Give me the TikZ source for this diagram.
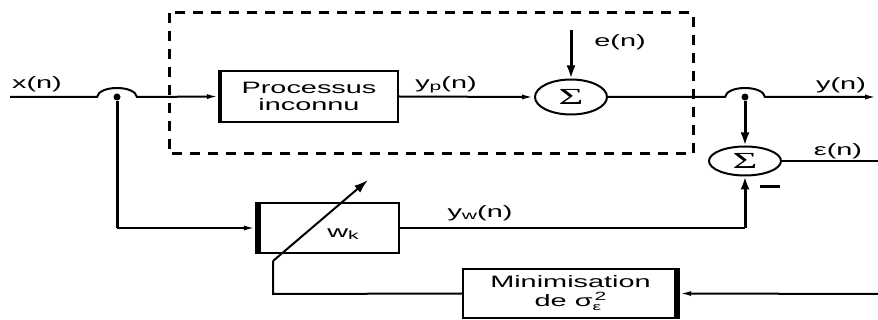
\documentclass[tikz,border=0pt]{standalone}
\usepackage{fontspec}
\setmainfont[FakeStretch=1.75]{Liberation Sans}
\newfontfamily\sigmafont[FakeStretch=1.85]{Liberation Serif}
\usetikzlibrary{arrows.meta,shapes.geometric}

\newcommand{\lowsub}[1]{\raisebox{-2.5pt}{\fontsize{12}{12}\selectfont #1}}

\begin{document}
\begin{tikzpicture}[x=1pt,y=-1pt,
  txt/.style={font=\fontsize{16.5}{17}\selectfont, inner sep=0pt},
  blk/.style={draw, line width=2.4pt, inner sep=0pt, txt, align=center},
  sumnode/.style={draw, ellipse, line width=2pt, inner sep=0pt,
    minimum width=72pt, minimum height=35pt,
    font=\sigmafont\fontsize{23}{23}\selectfont},
  wire/.style={line width=2pt},
  arr/.style={wire, -{Latex[length=12pt,width=5pt]}},
  varr/.style={line width=3pt, -{Latex[length=13pt,width=9pt]}},
  dot/.style={circle, fill, inner sep=0pt, minimum size=7pt},
]
\useasboundingbox (0,0) rectangle (878,320);

% boundary of the unknown system
\draw[line width=3pt, dash pattern=on 10pt off 8pt] (169,13) rectangle (693,154);

% blocks
\node[blk, minimum width=178pt, minimum height=51pt] (proc) at (309,96.5) {Processus\\inconnu};
\draw[line width=4.5pt] ([xshift=1pt]proc.north west) -- ([xshift=1pt]proc.south west);

\node[blk, minimum width=142pt, minimum height=50pt] (wk) at (328,228) {};
\draw[line width=6pt] ([xshift=2pt]wk.north west) -- ([xshift=2pt]wk.south west);
\node[txt] (wklabel) at (343,234) {w\lowsub{k}};

\node[blk, minimum width=215pt, minimum height=49pt, font=\fontsize{16.5}{18.5}\selectfont] (mini) at (570.5,293.5)
  {Minimisation\\de σ\rlap{\raisebox{-4.5pt}{\fontsize{11}{11}\selectfont ε}}\kern2pt\raisebox{5.5pt}{\fontsize{12}{12}\selectfont 2}};
\draw[line width=6pt] ([xshift=-2pt]mini.north east) -- ([xshift=-2pt]mini.south east);

% summing junctions
\node[sumnode] (sum1) at (571,97) {Σ};
\node[sumnode, minimum height=29pt] (sum2) at (745,161) {Σ};

% junction points
\node[dot] (j1) at (117,97) {};
\node[dot] (j2) at (745,97) {};

% free ends
\coordinate (xin) at (10,97);
\coordinate (ein) at (571,30);
\coordinate (yout) at (877,97);
\coordinate (epsout) at (878,161);
\coordinate (fbin) at (878,294);
\coordinate (adjtip) at (368,180);
\coordinate (adjfoot) at (273,261);
\coordinate (adjcorner) at (273,294);
\coordinate (ywcorner) at (745,228);
\coordinate (j1corner) at (117,228);

% input with hop over the branch
\draw[arr] (xin) -- (97,97) .. controls (99,85) and (135,85) .. (137,97) -- (proc.west);
\draw[line width=3pt] (j1) -- (j1corner);
\draw[arr] (j1corner) -- (wk.west);

% plant path
\draw[arr] (proc.east) -- (sum1.west);
\draw[varr] (ein) -- (sum1.north);
\draw[arr] (sum1.east) -- (725,97) .. controls (727,85) and (763,85) .. (765,97) -- (yout);
\draw[varr] (j2) -- (sum2.north);

% model path
\draw[wire] (wk.east) -- (ywcorner);
\draw[varr] (ywcorner) -- (sum2.south);
\draw[wire] (sum2.east) -- (epsout);

% adaptation loop
\draw[arr] (fbin) -- (mini.east);
\draw[wire] (mini.west) -- (adjcorner) -- (adjfoot);
\draw[wire, -{Latex[length=14pt,width=9pt]}] (adjfoot) -- (adjtip);

% labels
\node[txt] (lx) at (37,84) {x(n)};
\node[txt] (lyp) at (446,85) {y\lowsub{p}(n)};
\node[txt] (le) at (620,42) {e(n)};
\node[txt] (ly) at (841,85) {y(n)};
\node[txt] (leps) at (838,151) {ε(n)};
\node[txt] (lyw) at (480,213) {y\lowsub{w}(n)};
\node[inner sep=0pt] (minus) at (770,187) {\rule{20pt}{3pt}};
\end{tikzpicture}
\end{document}
